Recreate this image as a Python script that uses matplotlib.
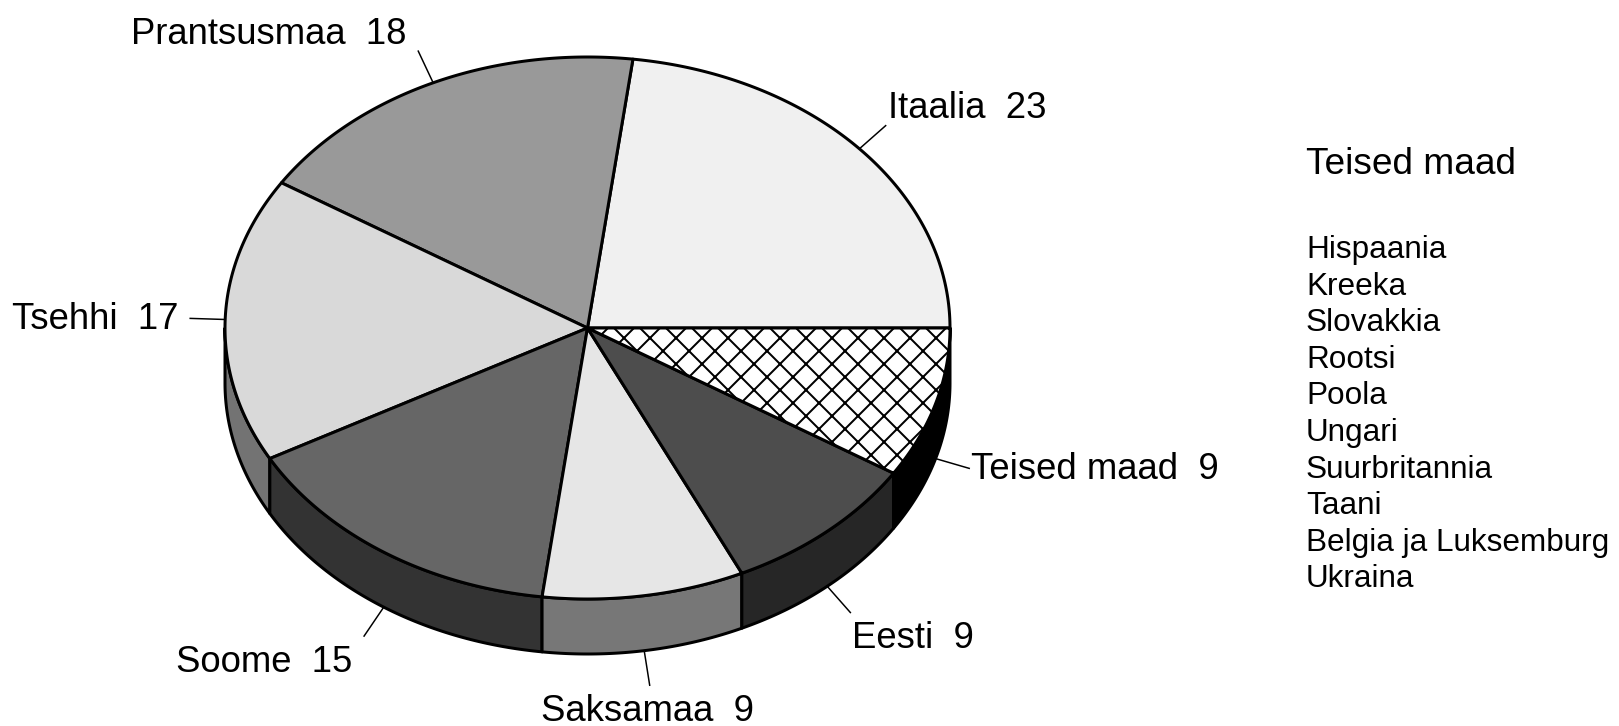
import numpy as np
import matplotlib
matplotlib.use("Agg")
import matplotlib.pyplot as plt
from matplotlib.patches import Polygon

# Andmed
countries = ["Itaalia", "Prantsusmaa", "Tsehhi", "Soome", "Saksamaa", "Eesti", "Teised maad"]
shares = [23, 18, 17, 15, 9, 9, 9]
top_colors = ["#f0f0f0", "#999999", "#d9d9d9", "#666666", "#e6e6e6", "#4d4d4d", "#ffffff"]
side_colors = ["#c0c0c0", "#707070", "#737373", "#333333", "#777777", "#262626", "#000000"]
hatches = [None, None, None, None, None, None, "x"]
other_title = "Teised maad"
other_countries = ["Hispaania", "Kreeka", "Slovakkia", "Rootsi", "Poola", "Ungari",
                   "Suurbritannia", "Taani", "Belgia ja Luksemburg", "Ukraina"]

DPI = 78
W, H = 1619, 726


def pt(px):
    # pikslid -> punktid
    return px * 72 / DPI


plt.rcParams["font.family"] = ["Liberation Sans", "DejaVu Sans"]
plt.rcParams["hatch.linewidth"] = pt(2)

fig = plt.figure(figsize=(W / DPI, H / DPI), dpi=DPI)
ax = fig.add_axes([0, 0, 1, 1])
ax.set_xlim(0, W)
ax.set_ylim(H, 0)
ax.axis("off")

# Ellipsi geomeetria
cx, cy, rx, ry, depth = 587.5, 328, 362.5, 271, 55


def ell(t_deg):
    t = np.radians(t_deg)
    return cx + rx * np.cos(t), cy - ry * np.sin(t)


bounds = np.concatenate([[0], np.cumsum(shares)]) / sum(shares) * 360
lw = pt(3)

# Külgpinnad (ainult esiosa 180..360)
for i in range(len(shares)):
    a0, a1 = max(bounds[i], 180), min(bounds[i + 1], 360)
    if a1 <= a0:
        continue
    t = np.linspace(a0, a1, 80)
    x, y = ell(t)
    pts = np.vstack([np.column_stack([x, y]), np.column_stack([x, y + depth])[::-1]])
    ax.add_patch(Polygon(pts, closed=True, facecolor=side_colors[i], edgecolor="black",
                         linewidth=lw, joinstyle="round", zorder=1))

# Pealmised sektorid
for i in range(len(shares)):
    t = np.linspace(bounds[i], bounds[i + 1], 120)
    x, y = ell(t)
    pts = np.vstack([[cx, cy], np.column_stack([x, y])])
    ax.add_patch(Polygon(pts, closed=True, facecolor=top_colors[i], edgecolor="black",
                         linewidth=lw, joinstyle="round", hatch=hatches[i], zorder=2))

# Sildid koos juhtjoontega
for i, (name, val) in enumerate(zip(countries, shares)):
    mid = (bounds[i] + bounds[i + 1]) / 2
    x0, y0 = ell(mid)
    if 180 < mid < 360:
        y0 += depth
    c, s = np.cos(np.radians(mid)), np.sin(np.radians(mid))
    x1, y1 = x0 + 35 * c, y0 - 35 * s
    ax.plot([x0, x1], [y0, y1], color="black", linewidth=pt(1.5), zorder=3)
    if c > 0.2:
        ha, tx = "left", x1 + 2
    elif c < -0.2:
        ha, tx = "right", x1 - 12
    else:
        ha, tx = "center", x1 - 2
    if s > 0.3:
        ty = y1 - 17
    elif s < -0.3:
        ty = y1 + 26
    else:
        ty = y1 + 1
    ax.text(tx, ty, f"{name}  {val}", ha=ha, va="center", fontsize=pt(36.5), zorder=4)

# Teised maad loetelu
ax.text(1306, 165, other_title, ha="left", va="center", fontsize=pt(37))
for k, name in enumerate(other_countries):
    ax.text(1306, 250 + k * 36.6, name, ha="left", va="center", fontsize=pt(31.5))

fig.savefig("out.png", dpi=DPI)
plt.close(fig)
